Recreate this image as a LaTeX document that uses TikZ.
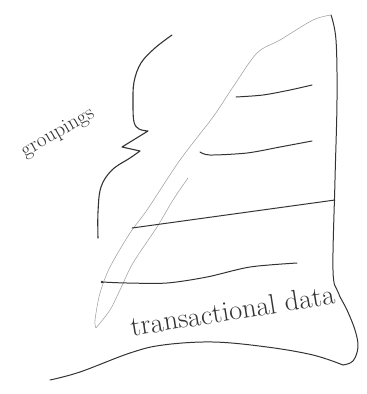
\documentclass[tikz,border=0pt]{standalone}
\usetikzlibrary{positioning}
\definecolor{Ink}{HTML}{333333}
\definecolor{Pencil}{HTML}{A0A0A0}
\tikzset{
  pen/.style={draw=Ink,line width=1pt,line cap=round,line join=round},
  faint/.style={draw=Pencil,line width=0.55pt,line cap=round,line join=round},
  scrawl/.style={text=Ink,inner sep=0pt}
}
\begin{document}
\begin{tikzpicture}[x=1bp,y=-1bp]
  \useasboundingbox (0,0) rectangle (367,394);
  % the sheet
  \draw[pen] plot[smooth,tension=0.6] coordinates {(331,15) (336,40) (337,100) (335,180) (333,270) (338,292) (347,310) (355,330) (358,347) (353,361) (343,365)};
  \draw[pen] plot[smooth,tension=0.6] coordinates {(343,365) (313,355) (267,347) (213,342) (163,345) (130,353) (80,372) (50,380)};
  \draw[faint] plot[smooth] coordinates {(331,15) (313,20) (280,40) (257,53) (233,87) (213,117) (180,160) (147,210) (130,233) (110,267) (100,293) (95,320) (96,328)};
  \draw[faint] plot[smooth] coordinates {(96,328) (110,310) (120,290) (133,263) (157,227) (173,200) (188,178)};
  % rows
  \draw[pen] plot[smooth] coordinates {(236,97) (263,95) (290,90) (312,85)};
  \draw[pen] plot[smooth] coordinates {(200,152) (210,155) (247,153) (280,147) (312,141)};
  \draw[pen] (132,228) -- (335,200);
  \draw[pen] plot[smooth] coordinates {(102,282) (127,283) (167,283) (207,277) (250,267) (297,263)};
  \fill[Ink] (102,282) circle (1.3);
  % brace
  \draw[pen,line width=1.1pt] plot[smooth,tension=0.6] coordinates {(172,35) (155,48) (141,63) (134,82) (133,104) (134,122) (139,129) (148,131)}
    -- (122,147) -- plot[smooth,tension=0.6] coordinates {(140,151) (130,158) (112,170) (101,187) (98,212) (98,238)};
  \node[scrawl,rotate=30,font=\fontsize{21}{23}\selectfont] (groupings) at (58,133) {groupings};
  \node[scrawl,rotate=9,anchor=base,font=\fontsize{28.5}{31}\selectfont] (transactional) at (234,320) {transactional data};
\end{tikzpicture}
\end{document}
